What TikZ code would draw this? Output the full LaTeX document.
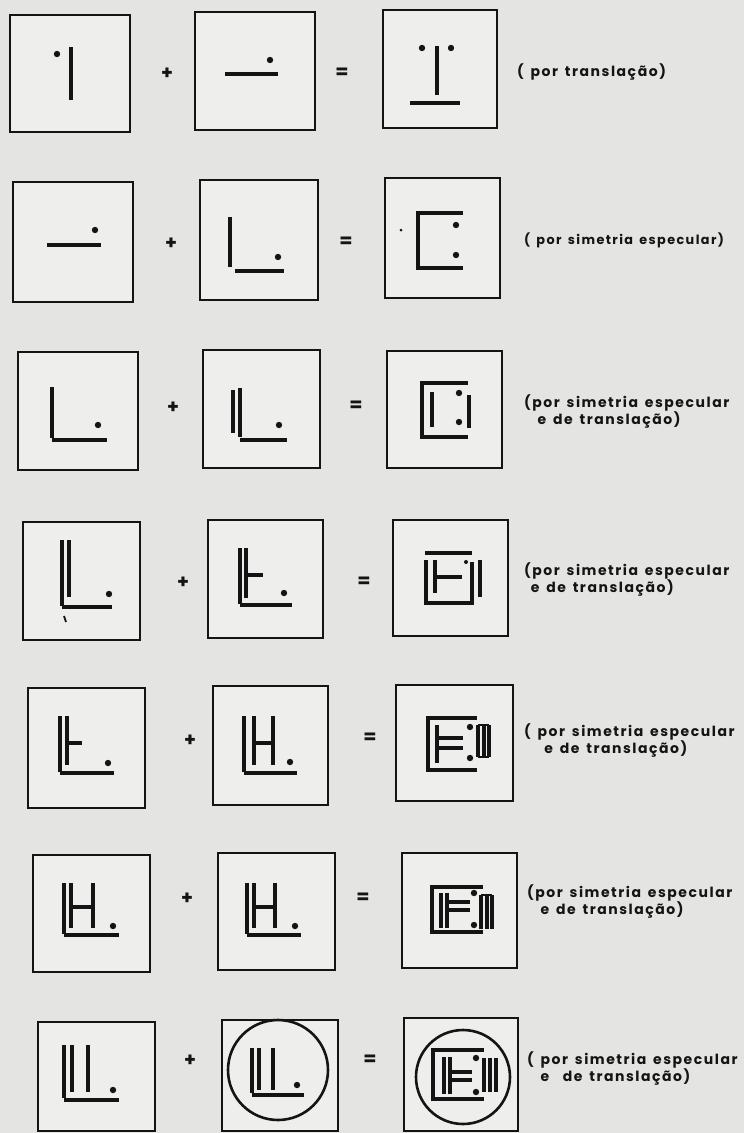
\documentclass[tikz,border=0pt]{standalone}
\usepackage{fontspec}
\setmainfont{Poppins}[LetterSpace=11,WordSpace=1.5]
\usetikzlibrary{fit}
\definecolor{paper}{RGB}{228,228,226}
\definecolor{boxfill}{RGB}{238,238,236}
\definecolor{ink}{RGB}{20,20,20}
\tikzset{
  box/.style={draw=ink, line width=2.3pt, fill=boxfill, inner sep=0pt},
  gl/.style={draw=ink, line width=3.4pt},
  thin/.style={draw=ink, line width=1.8pt},
  op/.style={font=\fontsize{19}{19}\selectfont\bfseries, text=ink, inner sep=0pt},
  lbl/.style={font=\fontsize{14}{17}\selectfont\bfseries, text=ink, anchor=west, inner sep=0pt, align=left},
  ring/.style={draw=ink, line width=2.6pt}
}
\newcommand{\dt}[1]{\fill[ink] #1 circle (3.2pt);}
\begin{document}
\begin{tikzpicture}[x=1pt,y=-1pt]
\fill[paper] (0,0) rectangle (744,1133);
\useasboundingbox (0,0) rectangle (744,1133);

% ---------- Row 1
\node[box, fit={(10,15) (130,132)}] (r1a) {};
\node[box, fit={(195,12) (315,130)}] (r1b) {};
\node[box, fit={(383,10) (497,128)}] (r1c) {};
\node[op] (r1p) at (167,74) {+};
\node[op] (r1e) at (342,73) {=};
\node[lbl] (r1t) at (517,72) {( por translação)};
\draw[gl] (71,47) -- (71,100); \dt{(57,54)}
\draw[gl] (225,74) -- (278,74); \dt{(270,60)}
\dt{(422,48)} \dt{(451,48)}
\draw[gl] (437,46) -- (437,95);
\draw[gl] (410,103) -- (460,103);

% ---------- Row 2
\node[box, fit={(13,182) (133,302)}] (r2a) {};
\node[box, fit={(200,180) (318,300)}] (r2b) {};
\node[box, fit={(385,178) (500,298)}] (r2c) {};
\node[op] (r2p) at (171,244) {+};
\node[op] (r2e) at (346,242) {=};
\node[lbl, font=\fontsize{12.8}{16}\selectfont\bfseries] (r2t) at (524,240) {( por simetria especular)};
\draw[gl] (47,245) -- (101,245); \dt{(95,230)}
\draw[gl] (230,217) -- (230,267);
\draw[gl] (235,271) -- (284,271); \dt{(278,257)}
\fill[ink] (401,230) circle (1.5pt);
\draw[gl] (463,213) -- (418,213) -- (418,268) -- (463,268);
\dt{(456,225)} \dt{(456,255)}

% ---------- Row 3
\node[box, fit={(18,352) (138,470)}] (r3a) {};
\node[box, fit={(203,350) (320,468)}] (r3b) {};
\node[box, fit={(387,351) (502,468)}] (r3c) {};
\node[op] (r3p) at (173,408) {+};
\node[op] (r3e) at (356,406) {=};
\node[lbl] (r3t) at (524,411) {(por simetria especular\\\ \ e de translação)};
\draw[gl] (52,387) -- (52,438);
\draw[gl] (52,440) -- (107,440); \dt{(98,425)}
\draw[gl] (233,390) -- (233,433);
\draw[gl] (240,388) -- (240,437);
\draw[gl] (240,440) -- (287,440); \dt{(279,425)}
\draw[gl] (468,383) -- (422,383) -- (422,437) -- (468,437);
\draw[gl] (432,392) -- (432,427);
\dt{(459,393)} \dt{(459,422)}
\draw[gl] (469,395) -- (469,428);

% ---------- Row 4
\node[box, fit={(23,522) (140,640)}] (r4a) {};
\node[box, fit={(208,520) (323,638)}] (r4b) {};
\node[box, fit={(393,520) (508,636)}] (r4c) {};
\node[op] (r4p) at (183,583) {+};
\node[op] (r4e) at (364,582) {=};
\node[lbl] (r4t) at (524,579) {(por simetria especular\\\ e de translação)};
\draw[gl] (62,540) -- (62,606);
\draw[gl] (69,540) -- (69,597);
\draw[gl] (62,607) -- (112,607); \dt{(109,594)}
\draw[thin] (64,616) -- (66,622);
\draw[gl] (240,548) -- (240,604);
\draw[gl] (246,548) -- (246,598);
\draw[gl] (246,575) -- (263,575);
\draw[gl] (240,605) -- (292,605); \dt{(284,593)}
\draw[gl] (425,553) -- (472,553);
\draw[gl] (426,560) -- (426,603) -- (474,603);
\draw[gl] (435,560) -- (435,593);
\draw[gl] (435,577) -- (462,577);
\fill[ink] (466,562) circle (2pt);
\draw[gl] (472,562) -- (472,603);
\draw[gl] (480,560) -- (480,597);

% ---------- Row 5
\node[box, fit={(28,688) (145,808)}] (r5a) {};
\node[box, fit={(213,686) (328,805)}] (r5b) {};
\node[box, fit={(396,685) (513,801)}] (r5c) {};
\node[op] (r5p) at (190,741) {+};
\node[op] (r5e) at (370,738) {=};
\node[lbl] (r5t) at (524,740) {( por simetria especular\\\ \ \ e de translação)};
\draw[gl] (60,716) -- (60,772);
\draw[gl] (67,716) -- (67,765);
\draw[gl] (67,743) -- (82,743);
\draw[gl] (60,773) -- (114,773); \dt{(108,763)}
\draw[gl] (244,716) -- (244,772);
\draw[gl] (254,716) -- (254,765);
\draw[gl] (273,716) -- (273,765);
\draw[gl] (254,743) -- (273,743);
\draw[gl] (244,773) -- (297,773); \dt{(290,762)}
\draw[gl] (477,718) -- (428,718) -- (428,770) -- (477,770);
\draw[gl] (437,725) -- (437,763);
\draw[gl] (437,738) -- (463,738);
\draw[gl] (437,748) -- (463,748);
\dt{(470,727)} \dt{(470,758)}
\draw[gl] (478,725) -- (478,757);
\draw[gl] (484,725) -- (484,757);
\draw[gl] (489,725) -- (489,757);
\draw[thin] (478,725) -- (489,725);
\draw[thin] (478,757) -- (489,757);

% ---------- Row 6
\node[box, fit={(33,855) (150,972)}] (r6a) {};
\node[box, fit={(218,853) (335,970)}] (r6b) {};
\node[box, fit={(402,853) (517,968)}] (r6c) {};
\node[op] (r6p) at (187,899) {+};
\node[op] (r6e) at (363,898) {=};
\node[lbl] (r6t) at (527,901) {(por simetria especular\\\ \ e de translação)};
\draw[gl] (64,883) -- (64,934);
\draw[gl] (71,883) -- (71,928);
\draw[gl] (93,883) -- (93,928);
\draw[gl] (71,907) -- (93,907);
\draw[gl] (64,935) -- (119,935); \dt{(113,926)}
\draw[gl] (247,883) -- (247,934);
\draw[gl] (254,883) -- (254,928);
\draw[gl] (275,883) -- (275,928);
\draw[gl] (254,907) -- (275,907);
\draw[gl] (247,935) -- (301,935); \dt{(295,926)}
\draw[gl] (483,887) -- (432,887) -- (432,932) -- (483,932);
\draw[gl] (441,893) -- (441,928);
\draw[gl] (447,893) -- (447,928);
\draw[gl] (447,902) -- (470,902);
\draw[gl] (447,910) -- (470,910);
\dt{(474,893)} \dt{(474,925)}
\draw[gl] (481,895) -- (481,929);
\draw[gl] (487,895) -- (487,929);
\draw[gl] (492,895) -- (492,929);
\draw[thin] (481,895) -- (492,895);

% ---------- Row 7
\node[box, fit={(38,1022) (155,1131)}] (r7a) {};
\node[box, fit={(222,1020) (338,1131)}] (r7b) {};
\node[box, fit={(404,1018) (518,1131)}] (r7c) {};
\node[op] (r7p) at (190,1061) {+};
\node[op] (r7e) at (370,1060) {=};
\node[lbl] (r7t) at (527,1068) {( por simetria especular\\\ \ e\ \ de translação)};
\draw[gl] (64,1045) -- (64,1098);
\draw[gl] (72,1045) -- (72,1092);
\draw[gl] (88,1045) -- (88,1092);
\draw[gl] (64,1100) -- (119,1100); \dt{(113,1090)}
\draw[ring] (278,1070) circle (50pt);
\draw[gl] (252,1048) -- (252,1093);
\draw[gl] (259,1048) -- (259,1090);
\draw[gl] (273,1048) -- (273,1090);
\draw[gl] (252,1095) -- (304,1095); \dt{(297,1085)}
\draw[ring] (463,1077) circle (47pt);
\draw[gl] (484,1050) -- (433,1050) -- (433,1099) -- (484,1099);
\draw[gl] (444,1057) -- (444,1094);
\draw[gl] (450,1057) -- (450,1094);
\draw[gl] (450,1072) -- (472,1072);
\draw[gl] (450,1080) -- (472,1080);
\dt{(476,1058)} \dt{(476,1092)}
\draw[gl] (484,1058) -- (484,1092);
\draw[gl] (490,1058) -- (490,1092);
\draw[gl] (496,1058) -- (496,1092);
\end{tikzpicture}
\end{document}
